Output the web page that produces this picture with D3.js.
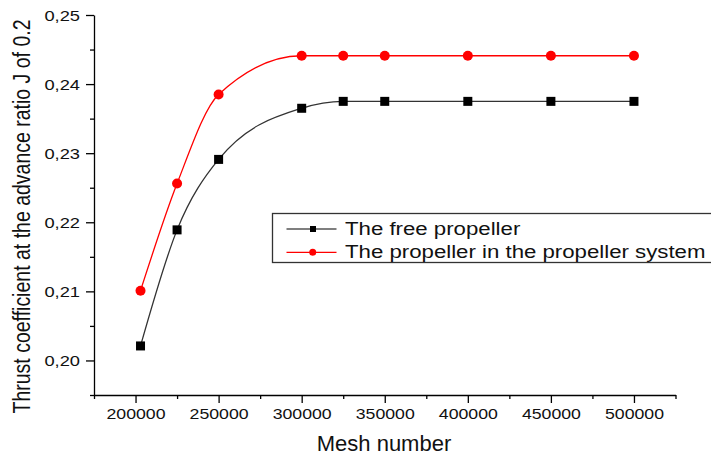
<!DOCTYPE html>
<html>
<head>
<meta charset="utf-8">
<script src="https://cdn.jsdelivr.net/npm/d3@7"></script>
<style>
  html, body { margin: 0; padding: 0; background: #fff; }
  svg { display: block; font-family: "Liberation Sans", Arial, sans-serif; }
</style>
</head>
<body>
<svg id="chart" width="711" height="458"></svg>
<script>
// Mesh-independence study: thrust coefficient vs. mesh number
const meshNumbers = [203000, 225000, 250000, 300000, 325000, 350000, 400000, 450000, 500000];
const freePropeller = [0.2021, 0.2189, 0.2291, 0.2365, 0.2375, 0.2375, 0.2375, 0.2375, 0.2375];
const systemPropeller = [0.2101, 0.2256, 0.2385, 0.2441, 0.2441, 0.2441, 0.2441, 0.2441, 0.2441];

const xMajorTicks = [200000, 250000, 300000, 350000, 400000, 450000, 500000];
const xMinorTicks = [175000, 225000, 275000, 325000, 375000, 425000, 475000, 525000];
const yMajorTicks = [0.20, 0.21, 0.22, 0.23, 0.24, 0.25];
const yMinorTicks = [0.195, 0.205, 0.215, 0.225, 0.235, 0.245];

const seriesNames = ["The free propeller", "The propeller in the propeller system"];

const svg = d3.select("#chart");
const textColor = "#111";

const x = d3.scaleLinear().domain([175000, 525000]).range([94, 675.5]);
const y = d3.scaleLinear().domain([0.195, 0.25]).range([395, 15]);

// ---- axes ----
const yAxisG = svg.append("g").attr("transform", "translate(94,0)");
yAxisG.append("g")
  .call(d3.axisLeft(y).tickValues(yMinorTicks).tickSize(4).tickFormat(""))
  .call(g => g.select(".domain").remove());
yAxisG.append("g")
  .call(d3.axisLeft(y).tickValues(yMajorTicks).tickSize(8).tickSizeOuter(0)
    .tickFormat(d => d3.format(".2f")(d).replace(".", ",")));
yAxisG.selectAll("path, line").attr("stroke", "#000").attr("stroke-width", 1.3);
yAxisG.selectAll("text")
  .attr("x", 0).attr("dy", "0.36em")
  .attr("transform", "translate(-14,0) scale(1.22,1)")
  .attr("font-size", 15).attr("fill", textColor);

const xAxisG = svg.append("g").attr("transform", "translate(0,395)");
xAxisG.append("g")
  .call(d3.axisBottom(x).tickValues(xMinorTicks).tickSize(4).tickFormat(""))
  .call(g => g.select(".domain").remove());
xAxisG.append("g")
  .call(d3.axisBottom(x).tickValues(xMajorTicks).tickSize(8).tickSizeOuter(0)
    .tickFormat(d3.format("d")));
xAxisG.selectAll("path, line").attr("stroke", "#000").attr("stroke-width", 1.3);
xAxisG.selectAll("text")
  .attr("y", 0).attr("dy", null)
  .attr("transform", "translate(0,24) scale(1.18,1)")
  .attr("font-size", 15).attr("fill", textColor);

// ---- axis titles ----
svg.append("text")
  .attr("transform", "translate(30,216.5) scale(1.19,1) rotate(-90)")
  .attr("text-anchor", "middle")
  .attr("font-size", 19.5).attr("fill", textColor)
  .text("Thrust coefficient at the advance ratio J of 0.2");

svg.append("text")
  .attr("x", 384).attr("y", 451)
  .attr("text-anchor", "middle")
  .attr("font-size", 22).attr("fill", textColor)
  .text("Mesh number");

// ---- curves ----
const line = d3.line()
  .x(d => x(d[0]))
  .y(d => y(d[1]))
  .curve(d3.curveMonotoneX);

const freeData = meshNumbers.map((m, i) => [m, freePropeller[i]]);
const sysData = meshNumbers.map((m, i) => [m, systemPropeller[i]]);

svg.append("path").datum(freeData)
  .attr("d", line).attr("fill", "none")
  .attr("stroke", "#333").attr("stroke-width", 1.3);
svg.append("path").datum(sysData)
  .attr("d", line).attr("fill", "none")
  .attr("stroke", "#ff0000").attr("stroke-width", 1.3);

svg.append("g").selectAll("rect").data(freeData).join("rect")
  .attr("x", d => x(d[0]) - 4.5).attr("y", d => y(d[1]) - 4.5)
  .attr("width", 9).attr("height", 9).attr("fill", "#000");
svg.append("g").selectAll("circle").data(sysData).join("circle")
  .attr("cx", d => x(d[0])).attr("cy", d => y(d[1]))
  .attr("r", 5).attr("fill", "#ff0000");

// ---- legend ----
const legend = svg.append("g");
legend.append("rect")
  .attr("x", 272.5).attr("y", 213.5).attr("width", 460).attr("height", 49)
  .attr("fill", "#fff").attr("stroke", "#333").attr("stroke-width", 1.3);

const legendRows = [
  { name: seriesNames[0], color: "#000", marker: "square", y: 229 },
  { name: seriesNames[1], color: "#ff0000", marker: "circle", y: 252.3 }
];
legendRows.forEach(r => {
  legend.append("line")
    .attr("x1", 286.5).attr("x2", 336.5).attr("y1", r.y).attr("y2", r.y)
    .attr("stroke", r.color).attr("stroke-width", 1.2);
  if (r.marker === "square") {
    legend.append("rect").attr("x", 310).attr("y", r.y - 3).attr("width", 6).attr("height", 6).attr("fill", r.color);
  } else {
    legend.append("circle").attr("cx", 312.7).attr("cy", r.y).attr("r", 3.5).attr("fill", r.color);
  }
  legend.append("text")
    .attr("transform", `translate(345,${r.y + 5.5}) scale(1.17,1)`)
    .attr("font-size", 19).attr("fill", textColor)
    .text(r.name);
});
</script>
</body>
</html>
